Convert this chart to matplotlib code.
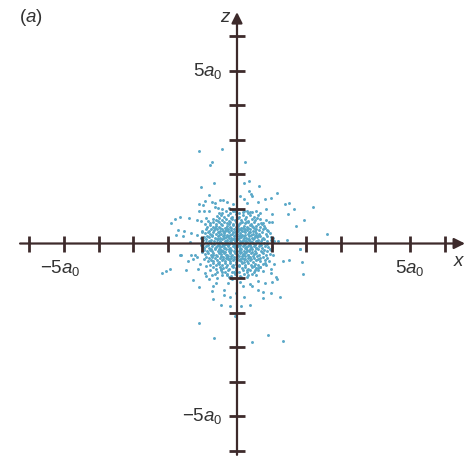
import numpy as np
import matplotlib
matplotlib.use('Agg')
import matplotlib.pyplot as plt

plt.rcParams['font.family'] = ['Liberation Sans', 'DejaVu Sans']
plt.rcParams['mathtext.fontset'] = 'custom'
plt.rcParams['mathtext.rm'] = 'Liberation Sans'
plt.rcParams['mathtext.it'] = 'Liberation Sans:italic'

# sparse points away from the centre (x, z in units of a0)
outer_pts = [
    (-1.10, 2.68), (-0.43, 2.73), (0.24, 2.37), (-0.71, 2.37), (-0.78, 2.28),
    (-0.66, 1.76), (-1.03, 1.62), (0.34, 1.82), (0.19, 1.74), (0.63, 1.67),
    (0.35, 1.52), (0.41, 1.43), (0.44, 1.37), (0.10, 1.37), (1.17, 1.45),
    (0.97, 1.33), (0.82, 1.29), (-0.80, 1.40), (-0.72, 1.21), (-0.63, 1.18),
    (-0.48, 1.27), (-0.40, 1.27), (-0.92, 1.23), (-0.99, 1.12), (-1.10, 1.14),
    (-0.28, 1.20), (-0.13, 1.13), (0.19, 1.29), (0.28, 1.17), (0.60, 1.19),
    (1.38, 1.14), (1.51, 1.18), (2.21, 1.05), (-1.11, 0.95), (-0.94, 0.93),
    (-0.80, 0.93), (-0.63, 1.06), (-0.54, 1.04), (-0.42, 0.99), (-0.22, 1.04),
    (-0.12, 0.95), (0.16, 0.92), (0.28, 0.94), (0.39, 0.91), (0.54, 0.93),
    (0.67, 0.87), (0.85, 0.99), (1.01, 0.86), (1.46, 0.85), (1.65, 0.99),
    (-1.79, 0.71), (-1.64, 0.76), (-1.92, 0.60), (-1.38, 0.73), (-1.17, 0.68),
    (-1.04, 0.65), (-0.91, 0.74), (-1.54, 0.37), (-1.70, 0.39), (-1.55, 0.22),
    (-1.76, 0.26), (-1.33, 0.31), (-1.17, 0.26), (-1.02, 0.33), (0.69, 0.60),
    (0.84, 0.67), (0.92, 0.61), (1.00, 0.62), (1.05, 0.17), (1.18, 0.07),
    (1.45, 0.10), (1.70, 0.52), (1.93, 0.69), (1.83, -0.17), (2.61, 0.27),
    (-1.63, -0.34), (-1.34, -0.32), (-1.17, -0.40), (-1.36, 0.03), (-0.96, -0.14),
    (-2.18, -0.84), (-2.06, -0.79), (-1.93, -0.75), (-1.65, -0.33), (-1.43, -0.50),
    (-1.28, -0.46), (-1.21, -0.33), (-1.46, -0.77), (-1.28, -1.05), (-1.09, -1.27),
    (-1.07, -0.59), (-1.12, -0.75), (-0.92, -0.84), (-0.89, -0.94), (-0.73, -0.91),
    (-0.80, -1.04), (-0.59, -1.01), (-0.61, -1.13), (-0.70, -1.22), (-0.73, -1.36),
    (-0.38, -1.34), (-0.39, -1.49), (-0.20, -1.54), (-0.68, -1.59), (-0.47, -1.79),
    (-0.20, -1.81), (-0.03, -1.44), (-0.06, -2.10), (0.13, -1.81), (0.20, -1.56),
    (0.38, -1.78), (0.38, -1.17), (0.44, -1.23), (0.61, -1.34), (0.76, -1.41),
    (0.98, -1.42), (0.74, -1.58), (0.62, -1.07), (0.81, -1.13), (1.00, -1.11),
    (1.15, -1.04), (1.13, -0.96), (0.98, -0.86), (0.97, -0.75), (1.07, -0.59),
    (1.34, -0.50), (1.51, -0.48), (1.25, -1.54), (1.87, -0.53), (1.92, -0.88),
    (1.82, -0.17), (-1.11, -2.31), (-0.66, -2.72), (0.44, -2.84), (0.91, -2.64),
    (1.32, -2.81), (0.81, -0.57), (0.66, -0.67), (0.52, -0.77), (0.28, -0.96),
    (0.09, -1.10), (0.18, -1.23), (-0.26, -1.15), (-0.15, -1.04), (-0.44, -0.81),
    (-0.30, -0.91),
]

# dense cloud around the nucleus, estimated
core_pts = [
    (-0.44, 0.88), (-0.31, 0.93), (-0.19, 0.87), (-0.06, 0.95), (0.07, 0.89), (0.19, 0.94), (0.31, 0.87), (0.43, 0.91),
    (-0.58, 0.79), (-0.47, 0.83), (-0.37, 0.77), (-0.26, 0.82), (-0.15, 0.78), (-0.04, 0.84), (0.06, 0.77), (0.16, 0.81),
    (0.27, 0.76), (0.38, 0.83), (0.49, 0.78), (0.60, 0.81),
    (-0.70, 0.71), (-0.61, 0.67), (-0.51, 0.73), (-0.42, 0.68), (-0.33, 0.72), (-0.24, 0.66), (-0.14, 0.71), (-0.05, 0.67),
    (0.04, 0.73), (0.13, 0.68), (0.23, 0.72), (0.32, 0.66), (0.42, 0.71), (0.53, 0.67), (0.66, 0.72),
    (-0.79, 0.58), (-0.70, 0.62), (-0.61, 0.57), (-0.53, 0.61), (-0.45, 0.56), (-0.37, 0.62), (-0.29, 0.58), (-0.20, 0.63),
    (-0.12, 0.57), (-0.03, 0.61), (0.05, 0.56), (0.14, 0.62), (0.22, 0.58), (0.31, 0.63), (0.40, 0.57), (0.50, 0.61),
    (0.61, 0.56), (0.74, 0.60),
    (-0.86, 0.49), (-0.77, 0.53), (-0.69, 0.47), (-0.60, 0.52), (-0.52, 0.48), (-0.44, 0.53), (-0.36, 0.46), (-0.28, 0.51),
    (-0.20, 0.47), (-0.12, 0.53), (-0.04, 0.48), (0.04, 0.52), (0.12, 0.46), (0.20, 0.51), (0.28, 0.47), (0.37, 0.53),
    (0.46, 0.48), (0.55, 0.52), (0.66, 0.47), (0.79, 0.51),
    (-0.90, 0.41), (-0.82, 0.37), (-0.74, 0.42), (-0.66, 0.38), (-0.58, 0.43), (-0.50, 0.37), (-0.42, 0.41), (-0.34, 0.36),
    (-0.26, 0.42), (-0.18, 0.38), (-0.10, 0.43), (-0.02, 0.37), (0.06, 0.41), (0.14, 0.36), (0.22, 0.42), (0.30, 0.38),
    (0.38, 0.43), (0.47, 0.37), (0.56, 0.41), (0.65, 0.38), (0.75, 0.42), (0.87, 0.39),
    (-0.93, 0.29), (-0.85, 0.33), (-0.77, 0.28), (-0.69, 0.32), (-0.61, 0.27), (-0.53, 0.33), (-0.46, 0.28), (-0.38, 0.31),
    (-0.30, 0.26), (-0.22, 0.32), (-0.15, 0.28), (-0.07, 0.33), (0.00, 0.27), (0.08, 0.31), (0.15, 0.26), (0.23, 0.32),
    (0.31, 0.28), (0.39, 0.33), (0.47, 0.27), (0.55, 0.31), (0.64, 0.28), (0.73, 0.33), (0.83, 0.27), (0.94, 0.31),
    (-0.96, 0.19), (-0.88, 0.23), (-0.80, 0.18), (-0.72, 0.22), (-0.64, 0.17), (-0.56, 0.21), (-0.48, 0.16), (-0.41, 0.22),
    (-0.33, 0.18), (-0.25, 0.23), (-0.18, 0.17), (-0.10, 0.21), (-0.03, 0.16), (0.05, 0.22), (0.12, 0.18), (0.20, 0.23),
    (0.27, 0.17), (0.35, 0.21), (0.43, 0.16), (0.51, 0.22), (0.59, 0.18), (0.67, 0.23), (0.76, 0.17), (0.86, 0.21),
    (0.97, 0.18),
    (-0.98, 0.09), (-0.90, 0.12), (-0.82, 0.07), (-0.74, 0.11), (-0.66, 0.06), (-0.58, 0.12), (-0.50, 0.08), (-0.43, 0.13),
    (-0.35, 0.07), (-0.28, 0.11), (-0.20, 0.06), (-0.13, 0.12), (-0.06, 0.08), (0.02, 0.13), (0.09, 0.07), (0.16, 0.11),
    (0.24, 0.06), (0.31, 0.12), (0.39, 0.08), (0.46, 0.13), (0.54, 0.07), (0.62, 0.11), (0.70, 0.06), (0.79, 0.12),
    (0.88, 0.08), (0.99, 0.11),
    (-0.99, -0.01), (-0.91, 0.03), (-0.83, -0.03), (-0.75, 0.02), (-0.67, -0.02), (-0.59, 0.03), (-0.52, -0.04), (-0.44, 0.01),
    (-0.37, -0.03), (-0.29, 0.04), (-0.22, -0.02), (-0.14, 0.02), (-0.07, -0.04), (0.01, 0.01), (0.08, -0.03), (0.15, 0.03),
    (0.23, -0.01), (0.30, 0.04), (0.38, -0.03), (0.45, 0.02), (0.53, -0.02), (0.61, 0.03), (0.69, -0.04), (0.78, 0.01),
    (0.88, -0.02), (1.00, 0.02),
    (-0.97, -0.11), (-0.89, -0.07), (-0.81, -0.12), (-0.73, -0.08), (-0.65, -0.13), (-0.57, -0.07), (-0.50, -0.11), (-0.42, -0.06),
    (-0.35, -0.12), (-0.27, -0.08), (-0.20, -0.13), (-0.12, -0.07), (-0.05, -0.11), (0.03, -0.06), (0.10, -0.12), (0.18, -0.08),
    (0.25, -0.13), (0.33, -0.07), (0.40, -0.11), (0.48, -0.06), (0.56, -0.12), (0.64, -0.08), (0.72, -0.13), (0.81, -0.07),
    (0.90, -0.11), (1.02, -0.09),
    (-0.95, -0.19), (-0.87, -0.23), (-0.79, -0.18), (-0.71, -0.22), (-0.63, -0.17), (-0.55, -0.23), (-0.47, -0.18), (-0.40, -0.21),
    (-0.32, -0.16), (-0.24, -0.22), (-0.17, -0.18), (-0.09, -0.23), (-0.02, -0.17), (0.06, -0.21), (0.13, -0.16), (0.21, -0.22),
    (0.28, -0.18), (0.36, -0.23), (0.44, -0.17), (0.52, -0.21), (0.60, -0.16), (0.68, -0.22), (0.77, -0.18), (0.87, -0.23),
    (0.98, -0.19),
    (-0.92, -0.31), (-0.84, -0.27), (-0.76, -0.32), (-0.68, -0.28), (-0.60, -0.33), (-0.52, -0.27), (-0.45, -0.31), (-0.37, -0.26),
    (-0.29, -0.32), (-0.21, -0.28), (-0.14, -0.33), (-0.06, -0.27), (0.01, -0.31), (0.09, -0.26), (0.16, -0.32), (0.24, -0.28),
    (0.32, -0.33), (0.40, -0.27), (0.48, -0.31), (0.56, -0.26), (0.65, -0.32), (0.74, -0.28), (0.84, -0.33), (0.95, -0.29),
    (-0.89, -0.39), (-0.81, -0.43), (-0.73, -0.38), (-0.65, -0.42), (-0.57, -0.37), (-0.49, -0.43), (-0.41, -0.38), (-0.33, -0.41),
    (-0.25, -0.36), (-0.17, -0.42), (-0.09, -0.38), (-0.01, -0.43), (0.07, -0.37), (0.15, -0.41), (0.23, -0.36), (0.31, -0.42),
    (0.39, -0.38), (0.48, -0.43), (0.57, -0.37), (0.66, -0.41), (0.76, -0.38), (0.88, -0.42),
    (-0.85, -0.51), (-0.76, -0.47), (-0.68, -0.52), (-0.59, -0.48), (-0.51, -0.53), (-0.43, -0.47), (-0.35, -0.51), (-0.27, -0.46),
    (-0.19, -0.52), (-0.11, -0.48), (-0.03, -0.53), (0.05, -0.47), (0.13, -0.51), (0.21, -0.46), (0.29, -0.52), (0.38, -0.48),
    (0.47, -0.53), (0.56, -0.47), (0.67, -0.51), (0.80, -0.48),
    (-0.78, -0.61), (-0.69, -0.57), (-0.60, -0.62), (-0.52, -0.58), (-0.44, -0.63), (-0.36, -0.57), (-0.28, -0.61), (-0.19, -0.56),
    (-0.11, -0.62), (-0.02, -0.58), (0.06, -0.63), (0.15, -0.57), (0.23, -0.61), (0.32, -0.56), (0.41, -0.62), (0.51, -0.58),
    (0.62, -0.63), (0.75, -0.59),
    (-0.69, -0.69), (-0.60, -0.73), (-0.50, -0.68), (-0.41, -0.72), (-0.32, -0.67), (-0.23, -0.73), (-0.13, -0.68), (-0.04, -0.72),
    (0.05, -0.66), (0.14, -0.71), (0.24, -0.67), (0.33, -0.73), (0.43, -0.68), (0.54, -0.72), (0.67, -0.69),
    (-0.57, -0.81), (-0.46, -0.77), (-0.36, -0.82), (-0.25, -0.78), (-0.14, -0.83), (-0.03, -0.77), (0.07, -0.82), (0.17, -0.78),
    (0.28, -0.83), (0.39, -0.77), (0.50, -0.81), (0.61, -0.78),
    (-0.43, -0.91), (-0.30, -0.87), (-0.18, -0.93), (-0.05, -0.88), (0.08, -0.94), (0.20, -0.89), (0.32, -0.92), (0.44, -0.88),
    # extra points filling the middle
    (-0.48, 0.45), (-0.32, 0.44), (-0.16, 0.45), (0.00, 0.44), (0.16, 0.45), (0.33, 0.44), (0.49, 0.45),
    (-0.55, 0.34), (-0.41, 0.35), (-0.26, 0.36), (-0.11, 0.34), (0.04, 0.35), (0.19, 0.36), (0.35, 0.34), (0.51, 0.35),
    (-0.52, 0.24), (-0.37, 0.25), (-0.21, 0.26), (-0.06, 0.24), (0.09, 0.25), (0.24, 0.26), (0.40, 0.24), (0.55, 0.25),
    (-0.54, 0.14), (-0.39, 0.15), (-0.24, 0.16), (-0.09, 0.14), (0.06, 0.15), (0.20, 0.16), (0.35, 0.14), (0.50, 0.15),
    (-0.48, 0.05), (-0.33, 0.06), (-0.18, 0.05), (-0.03, 0.06), (0.12, 0.05), (0.27, 0.06), (0.42, 0.05), (0.57, 0.06),
    (-0.55, -0.05), (-0.40, -0.04), (-0.25, -0.05), (-0.10, -0.04), (0.05, -0.05), (0.20, -0.04), (0.35, -0.05), (0.51, -0.04),
    (-0.52, -0.15), (-0.37, -0.14), (-0.22, -0.15), (-0.07, -0.14), (0.08, -0.15), (0.23, -0.14), (0.38, -0.15), (0.54, -0.14),
    (-0.50, -0.25), (-0.35, -0.24), (-0.20, -0.25), (-0.04, -0.24), (0.11, -0.25), (0.27, -0.24), (0.43, -0.25),
    (-0.47, -0.35), (-0.31, -0.34), (-0.16, -0.35), (0.00, -0.34), (0.15, -0.35), (0.31, -0.34), (0.47, -0.35),
    (-0.40, -0.45), (-0.24, -0.44), (-0.08, -0.45), (0.08, -0.44), (0.24, -0.45), (0.40, -0.44),
    # scattered fill between the rows
    (-0.83, 0.64), (-0.56, 0.65), (-0.18, 0.74), (0.27, 0.63), (0.58, 0.74), (0.71, 0.55),
    (-0.92, 0.55), (-0.63, 0.44), (-0.23, 0.55), (0.09, 0.59), (0.43, 0.52), (0.82, 0.45),
    (-1.00, 0.36), (-0.71, 0.24), (-0.32, 0.39), (0.11, 0.39), (0.60, 0.21), (0.91, 0.36),
    (-1.04, 0.15), (-0.78, 0.03), (-0.16, 0.09), (0.36, 0.09), (0.73, 0.14), (1.06, 0.07),
    (-1.05, -0.05), (-0.62, -0.09), (-0.31, -0.02), (0.27, -0.09), (0.66, -0.02), (0.95, -0.15),
    (-1.01, -0.25), (-0.75, -0.15), (-0.43, -0.21), (0.18, -0.29), (0.71, -0.24), (1.04, -0.34),
    (-0.96, -0.45), (-0.69, -0.34), (-0.28, -0.39), (0.35, -0.39), (0.62, -0.45), (0.93, -0.52),
    (-0.90, -0.64), (-0.55, -0.55), (-0.15, -0.64), (0.19, -0.54), (0.49, -0.66), (0.85, -0.63),
    (-0.77, -0.76), (-0.47, -0.74), (-0.09, -0.81), (0.28, -0.76), (0.60, -0.70), (0.74, -0.80),
    (-0.63, -0.88), (-0.24, -0.97), (0.13, -0.98), (0.55, -0.90), (-0.52, 0.89), (0.02, 1.00),
]

tick_vals = [-6, -5, -4, -3, -2, -1, 1, 2, 3, 4, 5, 6]
label_vals = [-5, 5]

axis_col = '#3d2a2b'
dot_col = '#5aa8c8'
text_col = '#333333'

fig = plt.figure(figsize=(4.65, 4.59), dpi=100)
ax = fig.add_axes([0, 0, 1, 1])
ax.set_xlim(-6.85, 6.59)
ax.set_ylim(-6.23, 7.04)
ax.axis('off')

pts = np.array(outer_pts + core_pts)
ax.scatter(pts[:, 0], pts[:, 1], s=4.5, color=dot_col, linewidths=0, zorder=2)

# the two axes with arrow heads
ax.annotate('', xy=(6.59, 0), xytext=(-6.27, 0),
            arrowprops=dict(arrowstyle='-|>', lw=1.6, color=axis_col, mutation_scale=16,
                            shrinkA=0, shrinkB=0), zorder=3)
ax.annotate('', xy=(0, 6.69), xytext=(0, -6.11),
            arrowprops=dict(arrowstyle='-|>', lw=1.6, color=axis_col, mutation_scale=16,
                            shrinkA=0, shrinkB=0), zorder=3)

# tick marks
ax.plot(tick_vals, [0] * len(tick_vals), ls='none', marker='|', ms=12, mew=2, color=axis_col, zorder=3)
ax.plot([0] * len(tick_vals), tick_vals, ls='none', marker='_', ms=12, mew=2, color=axis_col, zorder=3)

# labels
for v in label_vals:
    s = r'$%s5a_0$' % ('-' if v < 0 else '')
    ax.text(v - (0.12 if v < 0 else 0), -0.72, s, ha='center', va='center', fontsize=13.5, color=text_col)
    ax.text(-0.43, v, s, ha='right', va='center', fontsize=13.5, color=text_col)

ax.text(6.24, -0.53, r'$x$', ha='left', va='center', fontsize=13.5, color=text_col)
ax.text(-0.32, 6.52, r'$z$', ha='center', va='center', fontsize=13.5, color=text_col)
fig.text(31 / 465, 1 - 17 / 459, r'($a$)', ha='center', va='center', fontsize=13.5, color=text_col)

fig.savefig('out.png', dpi=100)
